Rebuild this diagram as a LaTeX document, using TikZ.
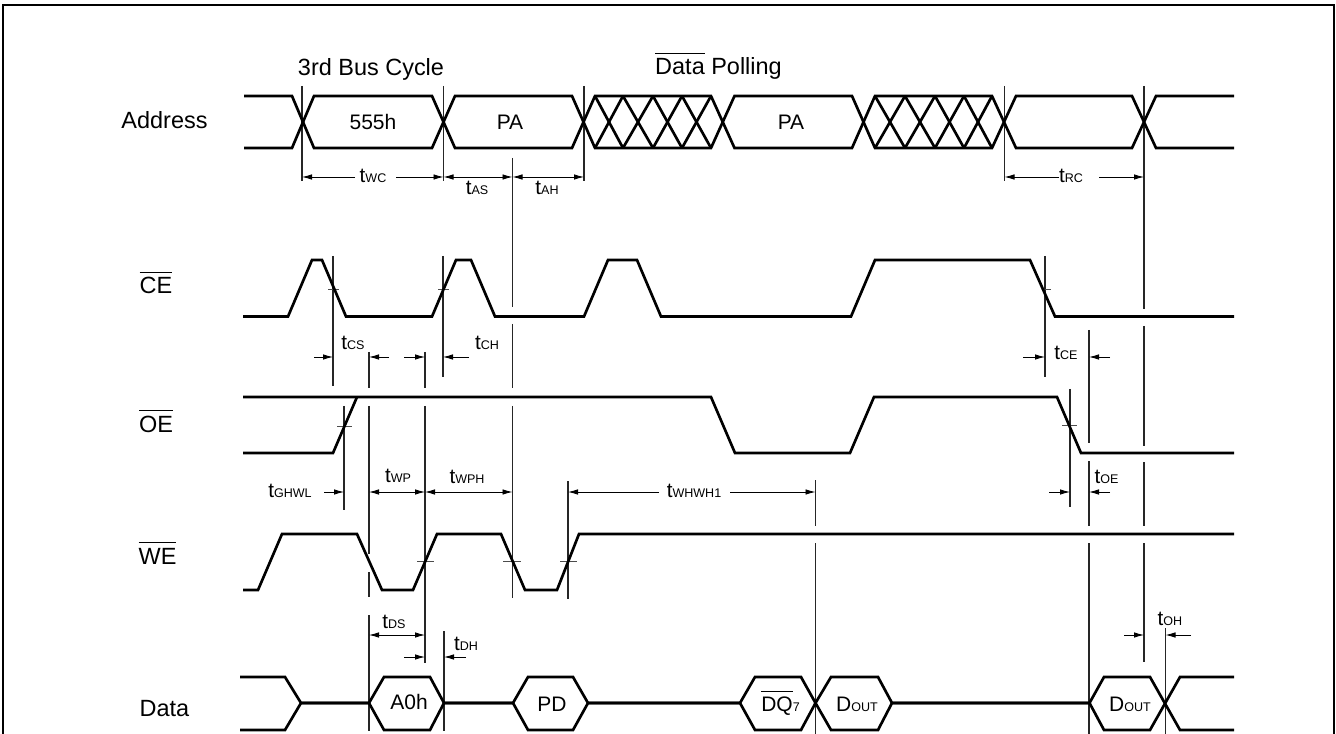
\documentclass[tikz,border=0pt]{standalone}
\usepackage{fontspec}
\setmainfont{Liberation Sans}
\usetikzlibrary{arrows.meta}

\newcommand{\tlab}[1]{{\fontsize{15.5}{18}\selectfont t}{\fontsize{9.4}{11}\selectfont #1}}
\newcommand{\dout}{{\fontsize{15.75}{18}\selectfont D}{\fontsize{9.4}{11}\selectfont OUT}}
\newcommand{\barsig}[1]{\vbox{\hrule height 0.7pt\kern 3.6pt\hbox{#1}}}

\begin{document}
\begin{tikzpicture}[x=0.75pt, y=-0.75pt,
    >={Latex[length=7.5pt,width=4.2pt]},
    sig/.style={line width=2pt, line join=miter},
    vline/.style={line width=0.8pt, black!85},
    tick/.style={line width=0.6pt, black!70},
    dim/.style={line width=0.65pt},
    signame/.style={font=\fontsize{17.6}{20}\selectfont, inner sep=0pt, anchor=base},
    val/.style={font=\fontsize{15.75}{18}\selectfont, inner sep=0pt, anchor=base},
    lab/.style={inner sep=0pt}]
   \useasboundingbox (0,0) rectangle (1336,734);

   % frame
   \draw[line width=1.7pt] (3,734) -- (3,5) -- (1334,5) -- (1334,734);

   % signal names
   \node [signame] (address) at (164.5,129) {Address};
   \node [signame] (ce) at (156,294) {\barsig{CE}};
   \node [signame] (oe) at (156,432) {\barsig{OE}};
   \node [signame] (we) at (157.5,564) {\barsig{WE}};
   \node [signame] (data) at (164.5,716) {Data};
   \node [signame] (cycle) at (371,76) {3rd Bus Cycle};
   \node [signame] (polling) at (718.5,75) {\barsig{Data} Polling};

   % vertical guides, broken at the signal lines
   \foreach \x/\a/\b in {302/86/181, 443.5/86/181, 584/86/181, 1004.5/86/181,
       512.5/158/307, 512.5/324/388, 512.5/406/598,
       1144/86/309, 1144/326/446, 1144/462/526, 1144/543/662,
       333/256/386, 443/256/377, 1045/256/377,
       369/352/388, 369/406/554, 369/572/597, 369/615/731,
       425/352/388, 425/406/663,
       344/406/510, 568/481/599,
       815.5/480/526, 815.5/543/734,
       1089/330/443, 1089/461/526, 1089/543/734,
       1070/389/507, 444/631/731, 1165.5/628/734}
     \draw[vline] (\x,\a) -- (\x,\b);

   % crossing marks
   \foreach \a/\b/\y in {328/339/289, 438/449/289, 1042/1051/289, 337/352/426,
       1062/1077/425, 417/434/561, 503/521/561, 560/577/561}
     \draw[tick] (\a,\y) -- (\b,\y);

   % Address
   \foreach \hi/\lo in {96/148,148/96}
     \draw[sig] (244,\hi) -- (292,\hi) -- (314,\lo) -- (432,\lo) -- (455,\hi)
       -- (572,\hi) -- (595,\lo) -- (711,\lo) -- (734.5,\hi) -- (852,\hi)
       -- (875,\lo) -- (992,\lo) -- (1016,\hi) -- (1132,\hi) -- (1156,\lo) -- (1234,\lo);
   \foreach \a/\b in {595/623, 623/653, 653/682, 682/711, 875/905, 905/935, 935/964, 964/992} {
     \draw[sig] (\a,96) -- (\b,148);
     \draw[sig] (\a,148) -- (\b,96);
   }
   \node [val] (v555) at (373,130) {555h};
   \node [val] (vpa) at (510,130) {PA};
   \node [val] (vpb) at (791,130) {PA};

   % CE
   \draw[sig] (243,316.5) -- (288,316.5) -- (312,260) -- (322,260) -- (346,316.5) -- (432,316.5)
     -- (456,260) -- (471,260) -- (495,316.5) -- (584,316.5) -- (608,260) -- (637,260)
     -- (661,316.5) -- (851,316.5) -- (875,260) -- (1030,260) -- (1055,316.5) -- (1234,316.5);

   % OE
   \draw[sig] (243,397) -- (357,397) -- (711,397) -- (735,453) -- (850,453) -- (874,397)
     -- (1057,397) -- (1081,453) -- (1234,453);
   \draw[sig] (243,453) -- (333,453) -- (357,397);

   % WE
   \draw[sig] (243,590) -- (258,590) -- (282,534) -- (357,534) -- (382,590) -- (413,590)
     -- (437,534) -- (501,534) -- (525,590) -- (557,590) -- (579,534) -- (1234,534);

   % Data
   \foreach \hi/\lo in {677/730,730/677}
     \draw[sig] (240,\hi) -- (285,\hi) -- (301,703) -- (369,703) -- (384,\hi) -- (430,\hi)
       -- (444,703) -- (513,703) -- (528,\hi) -- (573,\hi) -- (588,703) -- (740,703)
       -- (755,\hi) -- (801,\hi) -- (815.5,703) -- (831,\hi) -- (878,\hi) -- (892,703)
       -- (1089.5,703) -- (1104,\hi) -- (1150,\hi) -- (1180,\lo) -- (1234,\lo);
   \node [val] (va0) at (409,709) {A0h};
   \node [val] (vpd) at (552,711) {PD};
   \node [val] (vdq) at (780.5,711) {\barsig{DQ}{\fontsize{9.4}{11}\selectfont 7}};
   \node [val] (vda) at (857,711) {\dout};
   \node [val] (vdb) at (1130,711) {\dout};

   % timing labels
   \node [lab] (twc) at (373,176) {\tlab{WC}};
   \node [lab] (tas) at (477,188) {\tlab{AS}};
   \node [lab] (tah) at (547,188) {\tlab{AH}};
   \node [lab] (trc) at (1071,176) {\tlab{RC}};
   \node [lab] (tcs) at (353,343) {\tlab{CS}};
   \node [lab] (tch) at (487,343) {\tlab{CH}};
   \node [lab] (tce) at (1066,353) {\tlab{CE}};
   \node [lab] (toe) at (1106.5,477) {\tlab{OE}};
   \node [lab] (tghwl) at (290,491) {\tlab{GHWL}};
   \node [lab] (twp) at (398,476) {\tlab{WP}};
   \node [lab] (twph) at (467,477) {\tlab{WPH}};
   \node [lab] (twhwh) at (694,491) {\tlab{WHWH1}};
   \node [lab] (tds) at (394,622) {\tlab{DS}};
   \node [lab] (tdh) at (466,644) {\tlab{DH}};
   \node [lab] (toh) at (1170,619) {\tlab{OH}};

   % dimension arrows
   \path[dim, ->] (355,177) edge (302,177)
   (396,177) edge (443.5,177)
   (1059,177) edge (1004.5,177)
   (1099,177) edge (1144,177)
   (314,357) edge (333,357)
   (389,357) edge (369,357)
   (404,357) edge (425,357)
   (469,357) edge (443,357)
   (1023,357) edge (1045,357)
   (1110,357) edge (1089,357)
   (1049,492) edge (1070,492)
   (1110,492) edge (1089,492)
   (324,492) edge (344,492)
   (659,492) edge (568,492)
   (730,492) edge (815.5,492)
   (404,657) edge (425,657)
   (466,657) edge (444,657)
   (1124,635) edge (1144,635)
   (1191,635) edge (1165.5,635);
   \path[dim, <->] (443.5,177) edge (512.5,177)
   (512.5,177) edge (584,177)
   (369,492) edge (425,492)
   (425,492) edge (512.5,492)
   (369,635) edge (425,635);
\end{tikzpicture}
\end{document}
